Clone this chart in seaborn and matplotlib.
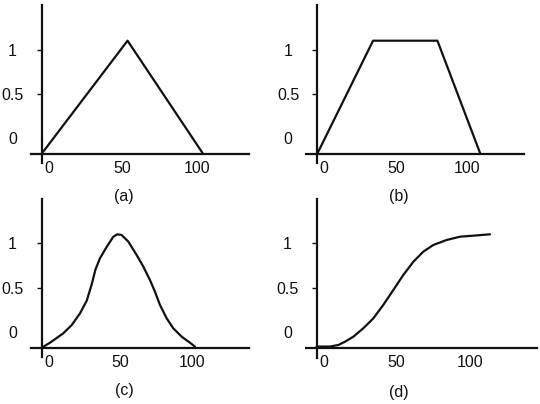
import matplotlib
matplotlib.use("Agg")
import matplotlib.pyplot as plt
import matplotlib.transforms as mtransforms
import seaborn as sns

# ---------------- data ----------------
tri_x = [0, 58, 109]
tri_y = [0, 1, 0]

trap_x = [0, 39, 84, 114]
trap_y = [0, 1, 1, 0]

bell_x = [0, 5.8, 15.1, 21.0, 26.8, 31.5, 35.0, 37.6, 40.8, 45.5, 50.1, 52.9, 55.9,
          60.6, 66.4, 71.1, 75.7, 79.2, 82.7, 87.4, 92.0, 97.9, 103.7, 107.2]
bell_y = [0, 0.044, 0.127, 0.20, 0.303, 0.415, 0.56, 0.69, 0.79, 0.89, 0.979, 1.0, 0.994,
          0.935, 0.817, 0.714, 0.597, 0.494, 0.377, 0.259, 0.171, 0.097, 0.044, 0.009]

sig_x = [0, 9.1, 14.8, 19.4, 25.1, 31.9, 38.8, 45.6, 52.5, 59.3, 66.2, 73.0, 79.9,
         89.0, 98.2, 107.3, 118.7]
sig_y = [0.01, 0.01, 0.024, 0.053, 0.097, 0.171, 0.259, 0.377, 0.509, 0.641, 0.758, 0.847, 0.906,
         0.95, 0.979, 0.988, 1.0]

xtick_values = [0, 50, 100]
xtick_labels = ["0", "50", "100"]
ytick_labels = ["0", "0.5", "1"]
captions = ["(a)", "(b)", "(c)", "(d)"]

series = [(tri_x, tri_y), (trap_x, trap_y), (bell_x, bell_y), (sig_x, sig_y)]

# ---------------- layout / style ----------------
sns.set_theme(style="white")
plt.rcParams["font.family"] = ["Liberation Sans", "DejaVu Sans"]
plt.rcParams["ytick.left"] = True
plt.rcParams["ytick.direction"] = "out"

W, H = 540, 404
DPI = 100
fig = plt.figure(figsize=(W / DPI, H / DPI), dpi=DPI)

ytick_pos = [0.14, 0.53, 0.92]     # where the y labels sit

layout = [
    dict(box=(31, 5, 249, 163), spine=(41.7, 153.7), sx=1.48, sy=113.0, cap=(124, 196)),
    dict(box=(306, 5, 524, 163), spine=(317.3, 153.7), sx=1.43, sy=113.0, cap=(399, 196)),
    dict(box=(31, 199.3, 249, 356.7), spine=(41.7, 347.7), sx=1.43, sy=113.4, cap=(124, 391)),
    dict(box=(306, 199, 537, 358), spine=(316.7, 347.7), sx=1.46, sy=113.4, cap=(399, 392)),
]

INK = "#111111"
FS = 11.5

for (xs, ys), lay, cap in zip(series, layout, captions):
    l, t, r, b = lay["box"]
    sx0, sy0 = lay["spine"]
    ax = fig.add_axes([l / W, 1 - b / H, (r - l) / W, (b - t) / H])
    ax.set_facecolor("white")
    sns.lineplot(x=xs, y=ys, ax=ax, color=INK, linewidth=1.6,
                 sort=False, estimator=None)
    ax.set_xlim(-(sx0 - l) / lay["sx"], (r - sx0) / lay["sx"])
    ax.set_ylim(-(b - sy0) / lay["sy"], (sy0 - t) / lay["sy"])

    for s in ["top", "right"]:
        ax.spines[s].set_visible(False)
    for s in ["left", "bottom"]:
        ax.spines[s].set_position(("data", 0))
        ax.spines[s].set_color(INK)
        ax.spines[s].set_linewidth(1.6)

    ax.set_xticks(xtick_values, xtick_labels)
    ax.set_yticks(ytick_pos, ytick_labels)
    ax.tick_params(axis="x", which="major", bottom=True, length=0, pad=5,
                   labelsize=FS, labelcolor=INK)
    ax.tick_params(axis="y", which="major", left=True, length=3.5, width=1.0,
                   color=INK, pad=17.5, labelsize=FS, labelcolor=INK)
    ax.set_xlabel("")
    ax.set_ylabel("")
    ax.grid(False)

    # no dash next to the "0" label
    ax.yaxis.get_major_ticks()[0].tick1line.set_visible(False)

    offset = mtransforms.ScaledTranslation(7 / DPI, 0, fig.dpi_scale_trans)
    for lab in ax.get_xticklabels():
        lab.set_transform(lab.get_transform() + offset)
    for lab in ax.get_yticklabels():
        lab.set_horizontalalignment("center")

    cx, cy = lay["cap"]
    fig.text(cx / W, 1 - cy / H, cap, ha="center", va="center",
             fontsize=FS, color=INK)

fig.savefig("out.png", dpi=DPI)
